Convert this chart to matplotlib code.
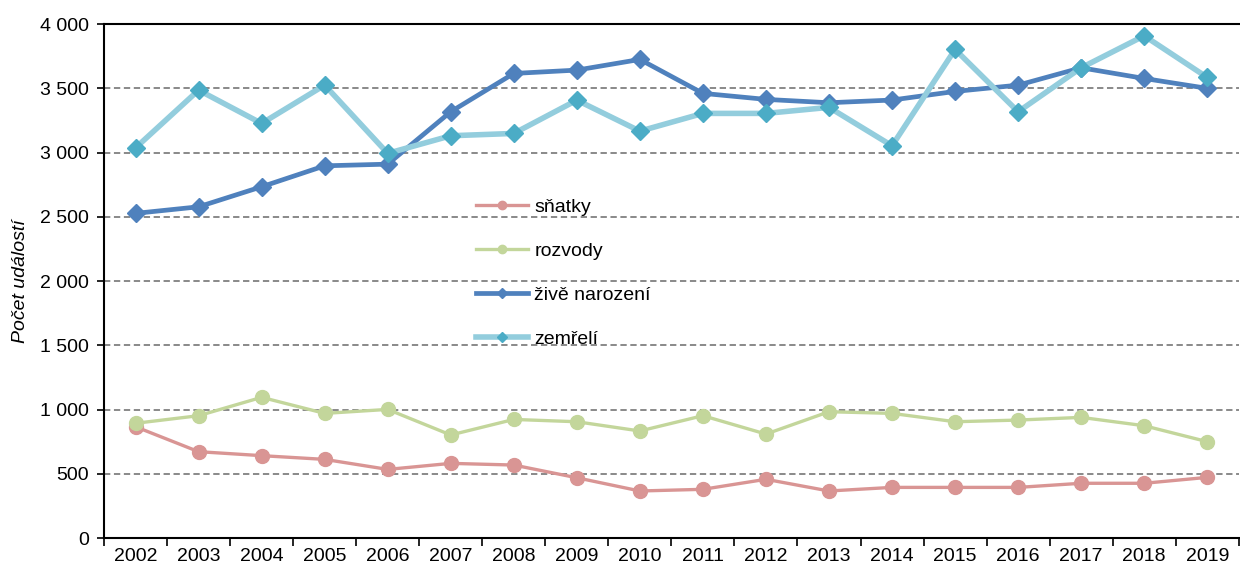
import numpy as np
import matplotlib.pyplot as plt

years = [str(y) for y in range(2002, 2020)]

snatky = [866, 672, 641, 612, 534, 581, 568, 469, 366, 379, 457, 366, 394, 394, 394, 426, 426, 472]
rozvody = [893, 952, 1095, 970, 1001, 802, 923, 905, 833, 952, 809, 983, 970, 905, 918, 939, 874, 750]
narozeni = [2527, 2578, 2734, 2897, 2910, 3318, 3616, 3642, 3725, 3461, 3414, 3388, 3409, 3476, 3525, 3660, 3577, 3500]
zemreli = [3037, 3486, 3227, 3525, 2994, 3131, 3149, 3408, 3167, 3305, 3305, 3352, 3053, 3803, 3318, 3660, 3909, 3585]

y_ticks = [0, 500, 1000, 1500, 2000, 2500, 3000, 3500, 4000]
y_labels = ['0', '500', '1 000', '1 500', '2 000', '2 500', '3 000', '3 500', '4 000']

plt.rcParams['font.family'] = ['Liberation Sans', 'DejaVu Sans']

fig = plt.figure(figsize=(12.4, 5.74), dpi=100)
ax = fig.add_axes([0.0839, 0.0627, 0.9151, 0.8953])

x = np.arange(len(years))

ax.plot(x, snatky, color='#D99594', lw=2.4, marker='o', ms=10, label='sňatky', zorder=3)
ax.plot(x, rozvody, color='#C3D69B', lw=2.4, marker='o', ms=10, label='rozvody', zorder=3)
ax.plot(x, narozeni, color='#4F81BD', lw=3.4, marker='D', ms=9, label='živě narození', zorder=3)
ax.plot(x, zemreli, color='#93CDDD', lw=4, marker='D', ms=9, mfc='#4BACC6', mec='#4BACC6',
        label='zemřelí', zorder=4)

ax.set_xlim(-0.5, len(years) - 0.5)
ax.set_ylim(0, 4000)

ax.set_yticks(y_ticks)
ax.set_yticklabels(y_labels, fontsize=14)
for v in y_ticks[1:-1]:
    ax.axhline(v, color='#808080', lw=1.3, ls=(0, (3.5, 2)), zorder=1)

ax.set_xticks(np.arange(len(years) + 1) - 0.5)
ax.set_xticklabels([])
ax.set_xticks(x, minor=True)
ax.set_xticklabels(years, minor=True, fontsize=14)
ax.tick_params(axis='x', which='major', direction='out', length=6, width=1.2)
ax.tick_params(axis='x', which='minor', length=0, pad=7)
ax.tick_params(axis='y', direction='out', length=5, width=1.2, pad=6)

for side in ['left', 'bottom', 'top']:
    ax.spines[side].set_linewidth(1.5)
ax.spines['right'].set_visible(False)

ax.set_ylabel('Počet událostí', fontsize=14, style='italic', labelpad=8)

fig.legend(loc='upper left', bbox_to_anchor=(0.376, 0.671), frameon=False, fontsize=14,
           labelspacing=1.35, handlelength=2.7, handletextpad=0.3, borderpad=0,
           markerscale=0.6)

fig.savefig('out.png', dpi=100)
